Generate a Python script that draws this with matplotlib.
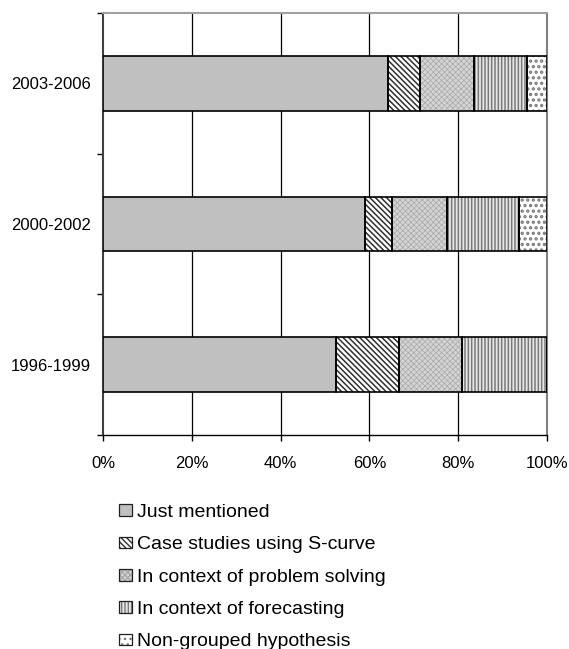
import matplotlib
matplotlib.use("Agg")
import matplotlib.pyplot as plt
from matplotlib.patches import Patch
from matplotlib.legend_handler import HandlerTuple
import numpy as np

categories = ["1996-1999", "2000-2002", "2003-2006"]
series_names = ["Just mentioned", "Case studies using S-curve",
                "In context of problem solving", "In context of forecasting",
                "Non-grouped hypothesis"]
just_mentioned = [52.4, 58.9, 64.1]
case_studies = [14.3, 6.3, 7.3]
problem_solving = [14.1, 12.2, 12.2]
forecasting = [19.2, 16.3, 11.9]
non_grouped = [0.0, 6.3, 4.5]
x_ticks = [0, 20, 40, 60, 80, 100]
x_tick_labels = ["0%", "20%", "40%", "60%", "80%", "100%"]

series = [just_mentioned, case_studies, problem_solving, forecasting, non_grouped]
faces = ["#C0C0C0", "white", "#D4D4D4", "#E6E6E6", "white"]
hatches = [None, "\\\\\\\\\\\\", "xxxxxx", "|||||", "..."]
hatch_cols = ["#C0C0C0", "#303030", "#A8A8A8", "#7A7A7A", "#7A7A7A"]
hatch_lws = [1.0, 1.1, 0.5, 1.1, 1.6]

plt.rcParams["font.family"] = ["Liberation Sans", "DejaVu Sans"]
plt.rcParams["hatch.linewidth"] = 1.0

fig = plt.figure(figsize=(5.69, 6.49), dpi=100)
ax = fig.add_axes([103 / 569, 1 - 435 / 649, 444 / 569, 422 / 649])

y = np.arange(len(categories))
h = 0.39
left = np.zeros(len(categories))
for vals, fc, ht, hc, hlw in zip(series, faces, hatches, hatch_cols, hatch_lws):
    vals = np.array(vals)
    with plt.rc_context({"hatch.linewidth": hlw}):
        bars = ax.barh(y, vals, left=left, height=h, color=fc, hatch=ht,
                       edgecolor=hc, linewidth=0, zorder=3)
        for b in bars:
            if hasattr(b, "set_hatch_linewidth"):
                b.set_hatch_linewidth(hlw)
    ax.barh(y, vals, left=left, height=h, fill=False,
            edgecolor="black", linewidth=1.2, zorder=4)
    left += vals

ax.set_xlim(0, 100)
ax.set_ylim(-0.5, 2.5)
ax.set_xticks(x_ticks)
ax.set_xticklabels(x_tick_labels, fontsize=12)
ax.set_yticks(y)
ax.set_yticklabels(categories, fontsize=12)
ax.tick_params(axis="y", length=0, pad=9)
ax.set_yticks([-0.5, 0.5, 1.5, 2.5], minor=True)
ax.tick_params(axis="y", which="minor", length=4, width=1, direction="out")
ax.tick_params(axis="x", length=4, width=1, direction="out", pad=11)
for xv in x_ticks[1:-1]:
    ax.axvline(xv, color="black", linewidth=0.9, zorder=1)

ax.spines["top"].set_color("#A0A0A0")
ax.spines["right"].set_color("#808080")
ax.spines["right"].set_linewidth(1.5)
ax.spines["top"].set_linewidth(1.5)
ax.spines["left"].set_color("#404040")
ax.spines["left"].set_linewidth(1.5)
ax.spines["bottom"].set_color("black")
ax.spines["bottom"].set_linewidth(1.0)

handles = []
for name, fc, ht, hc, hlw in zip(series_names, faces, hatches, hatch_cols, hatch_lws):
    with plt.rc_context({"hatch.linewidth": min(hlw, 0.8)}):
        p1 = Patch(facecolor=fc, hatch=ht, edgecolor=hc, linewidth=0)
        if hasattr(p1, "set_hatch_linewidth"):
            p1.set_hatch_linewidth(min(hlw, 0.8))
    p2 = Patch(fill=False, edgecolor="#202020", linewidth=0.9)
    handles.append((p1, p2))
fig.legend(handles=handles, labels=series_names, loc="upper left",
           handler_map={tuple: HandlerTuple(ndivide=1, pad=0)},
           bbox_to_anchor=(119 / 569, 1 - 504 / 649), frameon=False,
           fontsize=14, handlelength=0.65, handleheight=0.55,
           handletextpad=0.3, labelspacing=0.79, borderaxespad=0,
           borderpad=0)

fig.savefig("out.png", dpi=100)
